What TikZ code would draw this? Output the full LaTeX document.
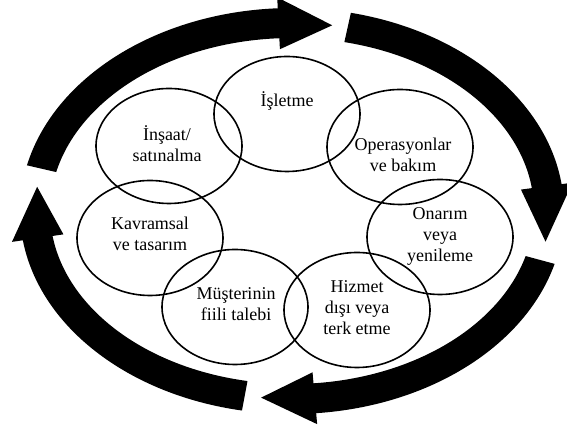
\documentclass[tikz,border=0pt]{standalone}
\usepackage{fontspec}
\setmainfont{Liberation Serif}
\usetikzlibrary{shapes.geometric}
\newcommand{\ringarrow}[3]{%
  \fill (#1:272pt and 203pt)
    arc[start angle=#1, end angle=#2, x radius=272pt, y radius=203pt]
    -- (#2:283pt and 214pt) -- (#3:257pt and 188pt) -- (#2:231pt and 162pt)
    -- (#2:242pt and 173pt)
    arc[start angle=#2, end angle=#1, x radius=242pt, y radius=173pt] -- cycle;}
\tikzset{
  phase/.style={ellipse, draw=black, line width=1.6pt, minimum width=146pt, minimum height=115pt, inner sep=0pt},
  phasetext/.style={align=center, font=\fontsize{18}{21}\selectfont, inner sep=0pt}
}
\begin{document}
\begin{tikzpicture}[x=1pt,y=1pt]
\useasboundingbox (0,0) rectangle (567,430);
\clip (0,0) rectangle (567,430);
% phase ellipses
\node[phase] (isl) at (287,316) {};
\node[phase] (ins) at (169,284) {};
\node[phase] (ope) at (400,283) {};
\node[phase] (kav) at (150,192) {};
\node[phase] (ona) at (440,193) {};
\node[phase] (mus) at (235,123) {};
\node[phase] (hiz) at (357,120) {};
% texts
\node[phasetext] (tisl) at (287,329) {İşletme};
\node[phasetext] (tins) at (167,286) {İnşaat/\\satınalma};
\node[phasetext] (tope) at (403,275) {Operasyonlar\\ve bakım};
\node[phasetext] (tkav) at (150,196) {Kavramsal\\ve tasarım};
\node[phasetext] (tona) at (440,194) {Onarım\\veya\\yenileme};
\node[phasetext] (tmus) at (236,126) {Müşterinin\\fiili talebi};
\node[phasetext] (thiz) at (357,122) {Hizmet\\dışı veya\\terk etme};
% cycle arrows
\begin{scope}[shift={(292,219)}]
\ringarrow{167}{93}{81}
\ringarrow{77.5}{7.6}{-9.4}
\ringarrow{-15.1}{-84.9}{-96.9}
\ringarrow{259.4}{188.3}{172.6}
\end{scope}
\end{tikzpicture}
\end{document}
